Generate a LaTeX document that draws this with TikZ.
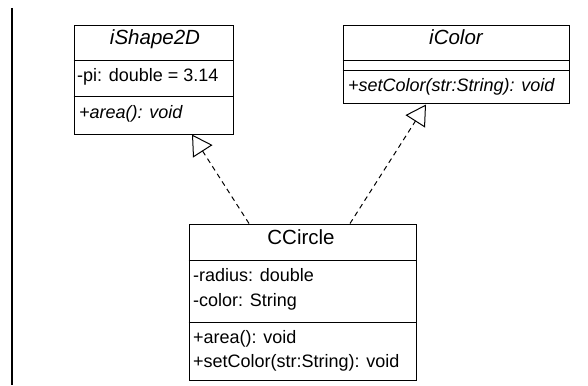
\documentclass[tikz,border=0pt]{standalone}
\usepackage{fontspec}
\setmainfont{Liberation Sans}
\usetikzlibrary{arrows.meta}

\tikzset{
  classbox/.style={draw=black, line width=1pt, fill=none, inner sep=0pt},
  divider/.style={draw=black, line width=1pt},
  classtitle/.style={inner sep=0pt, anchor=center, font=\fontsize{20.5}{24}\selectfont, text height=0.72em, text depth=0pt},
  member/.style={inner sep=0pt, anchor=west, font=\fontsize{18}{21}\selectfont, text height=0.72em, text depth=0pt},
  realize/.style={draw=black, line width=1pt, dash pattern=on 5pt off 4pt,
    -{Triangle[open, length=20pt, width=23pt, line width=1pt]}},
}

\begin{document}
\begin{tikzpicture}[x=1pt, y=-1pt]
  \useasboundingbox (0,0) rectangle (588,385);

  % frame edge on the left
  \draw[line width=1.5pt] (12,8) -- (12,385);

  % interface iShape2D
  \node[classbox, minimum width=159pt, minimum height=108pt] (shape) at (153.5,80) {};
  \draw[divider] (shape.west |- 0,61) -- (shape.east |- 0,61);
  \draw[divider] (shape.west |- 0,97) -- (shape.east |- 0,97);
  \node[classtitle] (shapetitle) at (155,40.5) {\itshape iShape2D};
  \node[member] (shapepi) at (77,78) {-pi: double = 3.14};
  \node[member] (shapearea) at (79,114.5) {\itshape +area(): void};

  % interface iColor
  \node[classbox, minimum width=226pt, minimum height=78pt] (color) at (456,65) {};
  \draw[divider] (color.west |- 0,61) -- (color.east |- 0,61);
  \draw[divider] (color.west |- 0,71) -- (color.east |- 0,71);
  \node[classtitle] (colortitle) at (456,41) {\itshape iColor};
  \node[member] (colorset) at (348,88) {\itshape +setColor(str:String): void};

  % class CCircle
  \node[classbox, minimum width=227pt, minimum height=156pt] (circle) at (302.5,302) {};
  \draw[divider] (circle.west |- 0,260) -- (circle.east |- 0,260);
  \draw[divider] (circle.west |- 0,322) -- (circle.east |- 0,322);
  \node[classtitle] (circletitle) at (301,240.5) {CCircle};
  \node[member] (circleradius) at (193,277.5) {-radius: double};
  \node[member] (circlecolor) at (193,302.5) {-color: String};
  \node[member] (circlearea) at (193,339.5) {+area(): void};
  \node[member] (circleset) at (193,364) {+setColor(str:String): void};

  % realization connectors
  \draw[realize] (circle.north -| 249,0) -- (shape.south -| 192,0);
  \draw[realize] (circle.north -| 350,0) -- (color.south -| 426,0);
\end{tikzpicture}
\end{document}
